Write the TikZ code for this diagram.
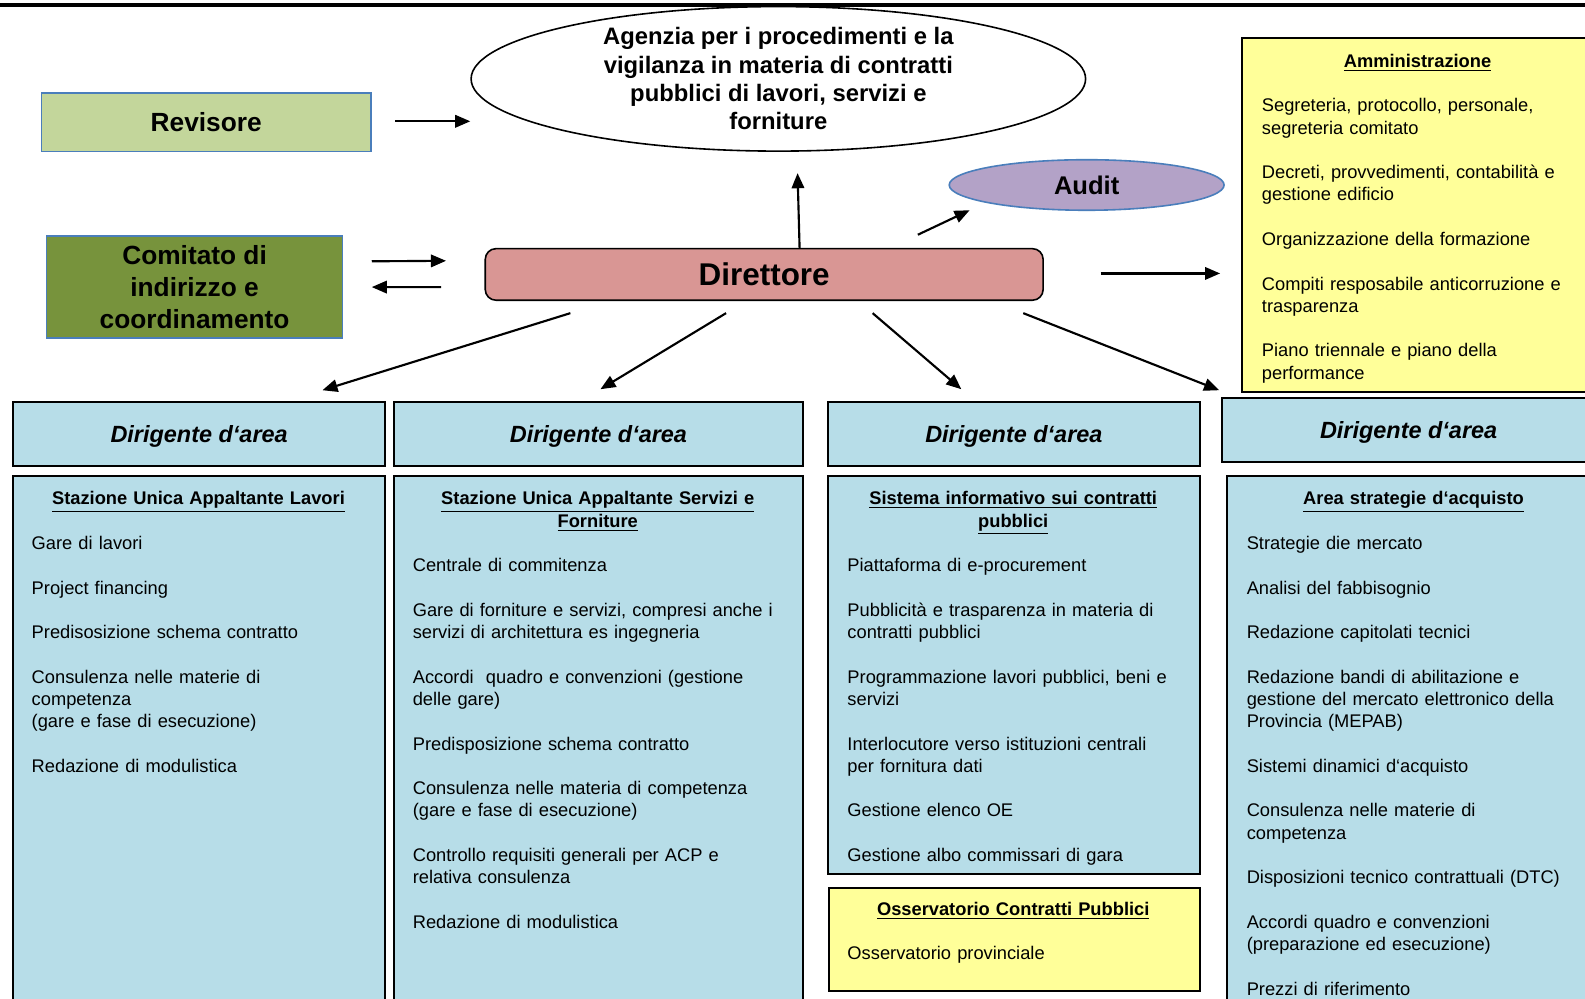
\documentclass[tikz,border=0pt]{standalone}
\usepackage{fontspec}
\setmainfont{Liberation Sans}
\usetikzlibrary{arrows.meta,calc,fit,shapes.geometric}

\definecolor{areablue}{HTML}{B7DDE8}
\definecolor{officeyellow}{HTML}{FFFF99}
\definecolor{revgreen}{HTML}{C3D69B}
\definecolor{comgreen}{HTML}{77933C}
\definecolor{dirpink}{HTML}{D99694}
\definecolor{auditviolet}{HTML}{B3A2C7}
\definecolor{edgeblue}{HTML}{4A7EBB}

\newcommand{\boxtitle}[1]{\makebox[\hsize]{\bfseries\underline{#1}}}
\newcommand{\nextitem}{\\[12.55pt]}

\begin{document}
\begin{tikzpicture}[x=0.02cm,y=-0.02cm,
  arr/.style={-{Triangle[length=8.5pt,width=7pt]},line width=1.2pt},
  boardbox/.style={draw=edgeblue,line width=0.9pt,inner sep=0pt,align=center,
    font=\fontsize{14.8}{18.1}\selectfont\bfseries},
  areabox/.style={draw,line width=1.1pt,fill=areablue,inner sep=0pt},
  headtext/.style={inner sep=0pt,font=\fontsize{13.2}{15}\selectfont\bfseries\itshape},
  listtext/.style={anchor=north west,inner sep=0pt,align=left,
    font=\fontsize{10.3}{12.55}\selectfont}]

  \useasboundingbox (0,0) rectangle (1568,987.3);

  % Top rule
  \draw[line width=2.3pt] (0,5) -- (1568,5);

  % Agency, audit and boards
  \node[ellipse,draw,line width=0.9pt,fill=white,minimum width=12.16cm,minimum height=2.82cm,
    inner sep=0pt,align=center,font=\fontsize{13.4}{15.9}\selectfont\bfseries] (agenzia) at (770,78)
    {Agenzia per i procedimenti e la\\vigilanza in materia di contratti\\pubblici di lavori, servizi e\\forniture};
  \node[ellipse,draw=edgeblue,line width=0.9pt,fill=auditviolet,minimum width=5.44cm,minimum height=1cm,
    inner sep=0pt,font=\fontsize{14.4}{17}\selectfont\bfseries] (audit) at (1075,183) {Audit};
  \node[boardbox,fill=revgreen,minimum width=6.52cm,minimum height=1.16cm] (revisore) at (204,121) {Revisore};
  \node[boardbox,fill=comgreen,minimum width=5.86cm,minimum height=2.02cm] (comitato) at (192.5,284)
    {Comitato di\\indirizzo e\\coordinamento};
  \node[draw,rounded corners=6pt,line width=0.9pt,fill=dirpink,inner sep=0pt,minimum width=11.04cm,
    minimum height=1.02cm,font=\fontsize{17.7}{20}\selectfont\bfseries] (direttore) at (756,271.5) {Direttore};

  % Administration
  \node[overlay,draw,line width=1.1pt,fill=officeyellow,inner sep=0pt,fit={(1229,38)(1600,388)}] (amministrazione) {};
  \node[listtext,text width=6.16cm] (ammtext) at ($(amministrazione.north west)+(20,16)$)
    {\boxtitle{Amministrazione}\nextitem
     Segreteria, protocollo, personale,\\segreteria comitato\nextitem
     Decreti, provvedimenti, contabilità e\\gestione edificio\nextitem
     Organizzazione della formazione\nextitem
     Compiti resposabile anticorruzione e\\trasparenza\nextitem
     Piano triennale e piano della\\performance};

  % Area heads
  \node[areabox,fit={(13,398)(381,461)}] (dirig1) {};
  \node[areabox,fit={(390,398)(794,461)}] (dirig2) {};
  \node[areabox,fit={(819,398)(1187,461)}] (dirig3) {};
  \node[overlay,areabox,fit={(1209,394)(1600,457)}] (dirig4) {};
  \node[headtext] (head1) at ($(dirig1)+(0,2.5)$) {Dirigente d‘area};
  \node[headtext] (head2) at ($(dirig2)+(0,2.5)$) {Dirigente d‘area};
  \node[headtext] (head3) at ($(dirig3)+(0,2.5)$) {Dirigente d‘area};
  \node[headtext] (head4) at ($(dirig4)+(-11,2.5)$) {Dirigente d‘area};

  % Areas
  \node[overlay,areabox,fit={(13,471)(381,1010)}] (lavori) {};
  \node[listtext,text width=6.6cm] (lavoritext) at ($(lavori.north west)+(19,16)$)
    {\boxtitle{Stazione Unica Appaltante Lavori}\nextitem
     Gare di lavori\nextitem
     Project financing\nextitem
     Predisosizione schema contratto\nextitem
     Consulenza nelle materie di\\competenza\\(gare e fase di esecuzione)\nextitem
     Redazione di modulistica};

  \node[overlay,areabox,fit={(390,471)(794,1010)}] (servizi) {};
  \node[listtext,text width=7.32cm] (servizitext) at ($(servizi.north west)+(19,16)$)
    {\boxtitle{Stazione Unica Appaltante Servizi e}\\\boxtitle{Forniture}\nextitem
     Centrale di commitenza\nextitem
     Gare di forniture e servizi, compresi anche i\\servizi di architettura es ingegneria\nextitem
     Accordi\ \ quadro e convenzioni (gestione\\delle gare)\nextitem
     Predisposizione schema contratto\nextitem
     Consulenza nelle materia di competenza\\(gare e fase di esecuzione)\nextitem
     Controllo requisiti generali per ACP e\\relativa consulenza\nextitem
     Redazione di modulistica};

  \node[areabox,fit={(819,471)(1187,865)}] (sistema) {};
  \node[listtext,text width=6.56cm] (sistematext) at ($(sistema.north west)+(20,16)$)
    {\boxtitle{Sistema informativo sui contratti}\\\boxtitle{pubblici}\nextitem
     Piattaforma di e-procurement\nextitem
     Pubblicità e trasparenza in materia di\\contratti pubblici\nextitem
     Programmazione lavori pubblici, beni e\\servizi\nextitem
     Interlocutore verso istituzioni centrali\\per fornitura dati\nextitem
     Gestione elenco OE\nextitem
     Gestione albo commissari di gara};

  \node[draw,line width=1.1pt,fill=officeyellow,inner sep=0pt,fit={(820,878)(1187,980)}] (osservatorio) {};
  \node[listtext,text width=6.56cm] (osservatoriotext) at ($(osservatorio.north west)+(19,15)$)
    {\boxtitle{Osservatorio Contratti Pubblici}\nextitem
     Osservatorio provinciale};

  \node[overlay,areabox,fit={(1214,471)(1600,1010)}] (strategie) {};
  \node[listtext,text width=6.6cm] (strategietext) at ($(strategie.north west)+(20,16)$)
    {\boxtitle{Area strategie d‘acquisto}\nextitem
     Strategie die mercato\nextitem
     Analisi del fabbisognio\nextitem
     Redazione capitolati tecnici\nextitem
     Redazione bandi di abilitazione e\\gestione del mercato elettronico della\\Provincia (MEPAB)\nextitem
     Sistemi dinamici d‘acquisto\nextitem
     Consulenza nelle materie di\\competenza\nextitem
     Disposizioni tecnico contrattuali (DTC)\nextitem
     Accordi quadro e convenzioni\\(preparazione ed esecuzione)\nextitem
     Prezzi di riferimento};

  % Arrows
  \draw[arr] ($(revisore.east)+(23,-1)$) -- ($(revisore.east -| agenzia.west)+(0,-1)$);
  \draw[arr] ($(comitato.east)+(28,-25.5)$) -- ($(direttore.west)+(-38,-13.5)$);
  \draw[arr] ($(direttore.west)+(-43,12.5)$) -- ($(comitato.east)+(28,0)$);
  \draw[arr] ($(direttore.north)+(35,0)$) -- ($(agenzia.south)+(19,21)$);
  \draw[arr] ($(direttore.north)+(152,-13)$) -- ($(audit.west)+(21,25)$);
  \draw[arr] ($(direttore.east)+(56,-1)$) -- ($(direttore.east -| amministrazione.west)+(-21,-1)$);
  \draw[arr] ($(direttore.south west)+(85,12)$) -- ($(dirig1.north east)+(-63,-11)$);
  \draw[arr] ($(direttore.south west)+(239,12)$) -- ($(dirig2.north)+(2,-12)$);
  \draw[arr] ($(direttore.south west)+(384,12)$) -- ($(dirig3.north)+(-52,-12)$);
  \draw[arr] ($(direttore.south west)+(533,12)$) -- ($(dirig4.north west)+(-2,-7)$);
\end{tikzpicture}
\end{document}
